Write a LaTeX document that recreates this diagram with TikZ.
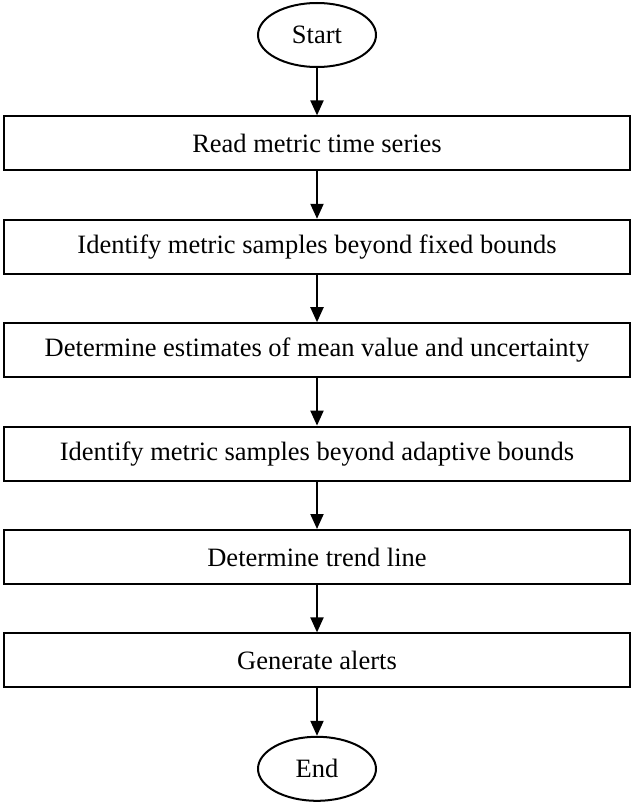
\documentclass[tikz,border=0pt]{standalone}
\usepackage{fontspec}
\setmainfont{Liberation Serif}
\usetikzlibrary{arrows.meta,positioning,shapes.geometric}

\begin{document}
\begin{tikzpicture}[->,>={Triangle[width=6.5pt,length=7.5pt]},line width=1pt,node distance=23.7pt,
  every node/.style={font=\fontsize{13.25}{16}\selectfont}]

  \tikzstyle{terminal}=[draw,ellipse,minimum width=59pt,minimum height=32pt,inner sep=0pt]
  \tikzstyle{process}=[draw,rectangle,minimum width=313pt,minimum height=27pt,inner sep=0pt]

  \useasboundingbox (0,0) rectangle (316.5pt,-401.5pt);

  \node[terminal] (start)    at (158.5pt,-17.5pt)  {Start};
  \node[process]  (read)     [below=of start]      {Read metric time series};
  \node[process]  (fixed)    [below=of read]       {Identify metric samples beyond fixed bounds};
  \node[process]  (estimate) [below=of fixed]      {Determine estimates of mean value and uncertainty};
  \node[process]  (adaptive) [below=of estimate]   {Identify metric samples beyond adaptive bounds};
  \node[process]  (trend)    [below=of adaptive]   {Determine trend line};
  \node[process]  (alerts)   [below=of trend]      {Generate alerts};
  \node[terminal] (end)      [below=of alerts]     {End};

  \path (start)    edge (read)
        (read)     edge (fixed)
        (fixed)    edge (estimate)
        (estimate) edge (adaptive)
        (adaptive) edge (trend)
        (trend)    edge (alerts)
        (alerts)   edge (end)
 ;
\end{tikzpicture}
\end{document}
